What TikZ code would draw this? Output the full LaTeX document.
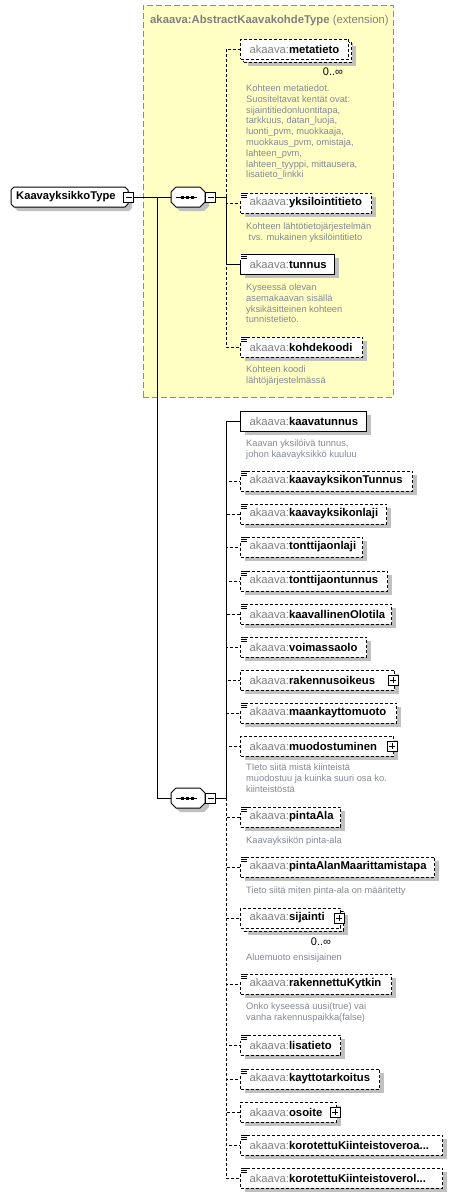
\documentclass[tikz,border=0pt]{standalone}
\usepackage{fontspec}
\setmainfont{Liberation Sans}
\usetikzlibrary{shadows,backgrounds}
\definecolor{ybg}{HTML}{FFFFC4}
\definecolor{ybd}{HTML}{8C8C8C}
\definecolor{pfx}{HTML}{808080}
\definecolor{dsc}{RGB}{132,136,150}
\definecolor{shd}{HTML}{C0C0C0}
\tikzset{
  conn/.style={line width=1pt, draw=black},
  opt/.style={dash pattern=on 3pt off 2pt},
  elem/.style={draw=black, line width=1pt, fill=white, rectangle, anchor=west,
    minimum height=20pt, inner xsep=9pt, inner ysep=0pt, align=left,
    font=\fontsize{11.3}{13}\selectfont,
    drop shadow={shadow xshift=4pt, shadow yshift=-4pt, fill=shd, draw=none, opacity=1}},
  multi/.style={drop shadow={shadow xshift=7pt, shadow yshift=-7pt, fill=shd, draw=none, opacity=1},
    general shadow={shadow xshift=3pt, shadow yshift=-3pt, fill=white, draw=black, line width=1pt, dash pattern=on 3pt off 2pt}},
  descr/.style={anchor=base west, inner sep=0pt, align=left, text=dsc, font=\fontsize{9.3}{10.8}\selectfont},
  mult/.style={inner sep=0pt, font=\fontsize{11}{13}\selectfont},
  pbox/.style={draw=black, fill=white, line width=0.8pt, minimum size=10pt, inner sep=0pt,
    path picture={\draw[line width=0.8pt] ([xshift=2pt]path picture bounding box.west) -- ([xshift=-2pt]path picture bounding box.east)
      ([yshift=-2pt]path picture bounding box.north) -- ([yshift=2pt]path picture bounding box.south);}},
  mbox/.style={draw=black, fill=white, line width=0.8pt, minimum size=10pt, inner sep=0pt,
    path picture={\draw[line width=0.8pt] ([xshift=2pt]path picture bounding box.west) -- ([xshift=-2pt]path picture bounding box.east);}},
  compo/.style={inner sep=0pt, minimum width=34pt, minimum height=20pt},
  outl/.style={draw=black, fill=white, line width=1pt},
  extbox/.style={draw=ybd, fill=ybg, line width=1pt, dash pattern=on 6pt off 3pt, minimum width=250pt, minimum height=392pt, inner sep=0pt}
}
\newcommand{\xel}[5]{\pgfmathsetmacro{\elw}{#3-258}\node[elem,text width=\elw pt,#5] (#1) at (240,#2) {\textcolor{pfx}{akaava:}\textbf{#4}};}
\newcommand{\ico}[1]{\fill[white] ([shift={(-0.5,-0.5)}]#1.north west) rectangle ([shift={(7.5,6)}]#1.north west);
  \draw[line width=0.8pt] ([shift={(1,0.5)}]#1.north west) -- ++(7,0) ([shift={(1,2.5)}]#1.north west) -- ++(6,0) ([shift={(1,4.5)}]#1.north west) -- ++(6,0);}
\newcommand{\pls}[1]{\node[pbox] (#1p) at ([xshift=-2pt]#1.east) {};}
\newcommand{\seqsym}[1]{\draw[line width=1pt] (176,#1) -- (197,#1);
  \fill (180.8,#1-1.5) rectangle ++(3,3); \fill (185.8,#1-1.5) rectangle ++(3,3); \fill (190.8,#1-1.5) rectangle ++(3,3);}
\begin{document}
\begin{tikzpicture}[x=1pt,y=-1pt]
\useasboundingbox (0,0) rectangle (470,1197);
\begin{scope}[on background layer]
  \node[extbox] (ext) at (268,201) {};
\end{scope}
\node[anchor=base west, inner sep=0pt, text=pfx, font=\fontsize{11.3}{13}\selectfont] (ttl) at (150,23) {\textbf{akaava:AbstractKaavakohdeType} (extension)};

% root
\node[anchor=west, inner xsep=5pt, inner ysep=0pt, minimum height=20pt, text width=107pt, align=left, font=\bfseries\fontsize{11.2}{13}\selectfont] (root) at (11,197) {KaavayksikkoType};
\begin{scope}[on background layer]
  \fill[shd, shift={(4,4)}] (11,190)--(14,187)--(125,187)--(128,190)--(128,204)--(125,207)--(14,207)--(11,204)--cycle;
  \draw[outl] (11,190)--(14,187)--(125,187)--(128,190)--(128,204)--(125,207)--(14,207)--(11,204)--cycle;
  \fill[shd, shift={(4,4)}] (171,192)--(176,187)--(200,187)--(205,192)--(205,202)--(200,207)--(176,207)--(171,202)--cycle;
  \draw[outl] (171,192)--(176,187)--(200,187)--(205,192)--(205,202)--(200,207)--(176,207)--(171,202)--cycle;
  \fill[shd, shift={(4,4)}] (171,793)--(176,788)--(200,788)--(205,793)--(205,803)--(200,808)--(176,808)--(171,803)--cycle;
  \draw[outl] (171,793)--(176,788)--(200,788)--(205,793)--(205,803)--(200,808)--(176,808)--(171,803)--cycle;
\end{scope}
\node[compo] (c1) at (188,197) {};
\node[compo] (c2) at (188,798) {};
\seqsym{197}
\seqsym{798}
\node[mbox] (rootm) at (128.5,197) {};
\node[mbox] (c1m) at (210.5,197) {};
\node[mbox] (c2m) at (210.5,798) {};

\coordinate (j0) at (157,197);
\coordinate (v1) at (226,197);
\coordinate (v2) at (226,798);

% first sequence
\xel{metatieto}{49}{348}{metatieto}{opt,multi}
\xel{yksilointitieto}{203}{371}{yksilointitieto}{opt}
\xel{tunnus}{264}{334}{tunnus}{}
\xel{kohdekoodi}{347}{362}{kohdekoodi}{opt}

% second sequence
\xel{kaavatunnus}{421}{366}{kaavatunnus}{}
\xel{kaavayksikonTunnus}{481}{412}{kaavayksikonTunnus}{opt}
\xel{kaavayksikonlaji}{514}{386}{kaavayksikonlaji}{opt}
\xel{tonttijaonlaji}{547}{362}{tonttijaonlaji}{opt}
\xel{tonttijaontunnus}{581}{387}{tonttijaontunnus}{opt}
\xel{kaavallinenOlotila}{614}{391}{kaavallinenOlotila}{opt}
\xel{voimassaolo}{647}{366}{voimassaolo}{opt}
\xel{rakennusoikeus}{680}{394}{rakennusoikeus}{opt}
\xel{maankayttomuoto}{713}{396}{maankayttomuoto}{opt}
\xel{muodostuminen}{746}{393}{muodostuminen}{opt}
\xel{pintaAla}{817}{340}{pintaAla}{opt}
\xel{pintaAlanMaarittamistapa}{867}{434}{pintaAlanMaarittamistapa}{opt}
\xel{sijainti}{918}{340}{sijainti}{opt,multi}
\xel{rakennettuKytkin}{984}{391}{rakennettuKytkin}{opt}
\xel{lisatieto}{1045}{340}{lisatieto}{opt}
\xel{kayttotarkoitus}{1079}{379}{kayttotarkoitus}{opt}
\xel{osoite}{1112}{336}{osoite}{opt}
\xel{korA}{1145}{442}{korotettuKiinteistoveroa...}{opt}
\xel{korB}{1178}{442}{korotettuKiinteistoverol...}{opt}

\foreach \n in {yksilointitieto,tunnus,kohdekoodi,kaavayksikonTunnus,kaavayksikonlaji,tonttijaonlaji,tonttijaontunnus,kaavallinenOlotila,voimassaolo,maankayttomuoto,pintaAla,pintaAlanMaarittamistapa,rakennettuKytkin,lisatieto,kayttotarkoitus,korA,korB} {\ico{\n}}
\foreach \n in {rakennusoikeus,muodostuminen,sijainti,osoite} {\pls{\n}}

\node[mult] (m1) at (333,72) {0..∞};
\node[mult] (m2) at (321,942) {0..∞};

% connectors
\draw[conn] (rootm.east) -- (c1.west);
\draw[conn] (j0) |- (c2.west);
\draw[conn] (c1m.east) -- (v1);
\draw[conn] (c2m.east) -- (v2);
\foreach \n in {metatieto,yksilointitieto,kohdekoodi} {\draw[conn,opt] (v1) |- (\n.west);}
\draw[conn] (v1) |- (tunnus.west);
\foreach \n in {kaavayksikonTunnus,kaavayksikonlaji,tonttijaonlaji,tonttijaontunnus,kaavallinenOlotila,voimassaolo,rakennusoikeus,maankayttomuoto,muodostuminen,pintaAla,pintaAlanMaarittamistapa,sijainti,rakennettuKytkin,lisatieto,kayttotarkoitus,osoite,korA,korB} {\draw[conn,opt] (v2) |- (\n.west);}
\draw[conn] (v2) |- (kaavatunnus.west);

% descriptions (base anchor = last line baseline)
\node[descr] (d1) at (246,177.9) {Kohteen metatiedot.\\Suositeltavat kentät ovat:\\sijaintitiedonluontitapa,\\tarkkuus, datan\_luoja,\\luonti\_pvm, muokkaaja,\\muokkaus\_pvm, omistaja,\\lahteen\_pvm,\\lahteen\_tyyppi, mittausera,\\lisatieto\_linkki};
\node[descr] (d2) at (246,240.3) {Kohteen lähtötietojärjestelmän\\\hspace*{2.5pt}tvs. mukainen yksilöintitieto};
\node[descr] (d3) at (246,322.9) {Kyseessä olevan\\asemakaavan sisällä\\yksikäsitteinen kohteen\\tunnistetieto.};
\node[descr] (d4) at (246,383.3) {Kohteen koodi\\lähtöjärjestelmässä};
\node[descr] (d5) at (246,457.3) {Kaavan yksilöivä tunnus,\\johon kaavayksikkö kuuluu};
\node[descr] (d6) at (246,792.1) {TIeto siitä mistä kiinteistä\\muodostuu ja kuinka suuri osa ko.\\kiinteistöstä};
\node[descr] (d7) at (246,843.5) {Kaavayksikön pinta-ala};
\node[descr] (d8) at (246,893.5) {Tieto siitä miten pinta-ala on määritetty};
\node[descr] (d9) at (246,960.5) {Aluemuoto ensisijainen};
\node[descr] (d10) at (246,1020.3) {Onko kyseessä uusi(true) vai\\vanha rakennuspaikka(false)};
\end{tikzpicture}
\end{document}
